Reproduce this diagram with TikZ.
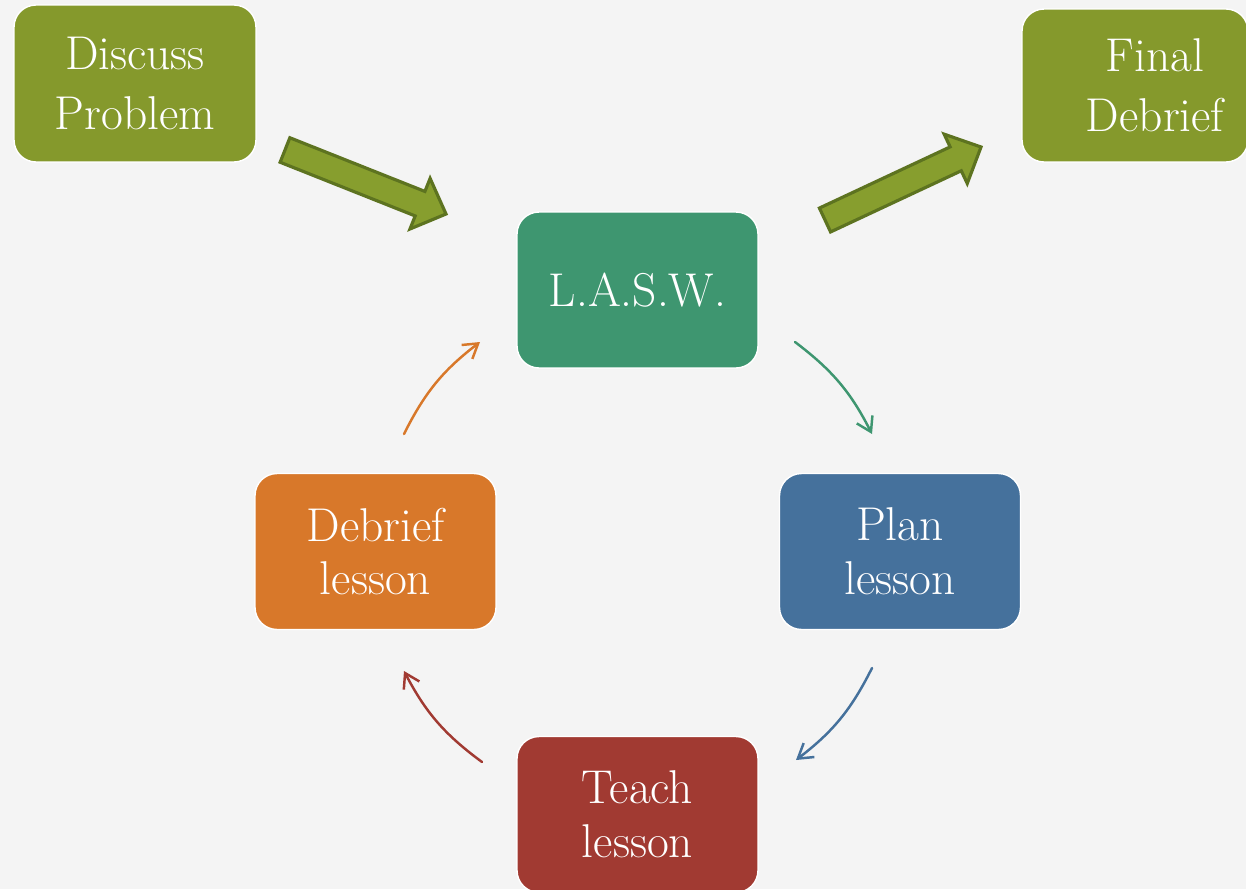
\documentclass[tikz,border=0pt]{standalone}
\usetikzlibrary{arrows.meta,calc}
\definecolor{bgc}{HTML}{F4F4F4}
\definecolor{cgreen}{HTML}{85992C}
\definecolor{cteal}{HTML}{3E9670}
\definecolor{cblue}{HTML}{45719C}
\definecolor{corange}{HTML}{D8782A}
\definecolor{cred}{HTML}{A13A32}
\definecolor{agreen}{HTML}{879E2E}
\definecolor{adark}{HTML}{5D7320}
\newcommand\bigarrow[2]{%
  \coordinate (#1-hb) at ($(#2)!15.9pt!(#1)$);
  \path[bigarr] ($(#1)!7.5pt!90:(#2)$) -- ($(#1-hb)!7.5pt!90:(#2)$) -- ($(#1-hb)!15.5pt!90:(#2)$) -- (#2)
     -- ($(#1-hb)!15.5pt!-90:(#2)$) -- ($(#1-hb)!7.5pt!-90:(#2)$) -- ($(#1)!7.5pt!-90:(#2)$) -- cycle;}
\begin{document}
\begin{tikzpicture}[x=0.02cm,y=-0.02cm,
  box/.style={rounded corners=0.44cm, draw=white, line width=0.8pt, minimum width=4.82cm,
    minimum height=3.12cm, text=white, align=center, inner sep=0pt,
    font=\fontsize{27}{30.6}\selectfont},
  topbox/.style={box, font=\fontsize{27}{34}\selectfont},
  cyc/.style={line width=1.4pt, line cap=round, -{Straight Barb[length=8pt,width=10pt,line width=1.4pt]}},
  bigarr/.style={fill=agreen, draw=adark, line width=1.8pt, line join=miter}]
\useasboundingbox (0,0) rectangle (1246,889);
\fill[bgc] (0,0) rectangle (1246,889);

\node[topbox, fill=cgreen, minimum width=4.84cm, minimum height=3.14cm] (discuss) at (135,83.5) {Discuss\\Problem};
\node[topbox, fill=cgreen, minimum width=4.52cm, minimum height=3.06cm] (final) at (1135,85.5) {};
\node[text=white, align=center, inner sep=0pt, font=\fontsize{27}{34}\selectfont] (finaltext) at (1155,85) {Final\\Debrief};

\node[box, fill=cteal] (lasw) at (637.5,290) {L.A.S.W.};
\node[box, fill=cblue] (plan) at (900,551.5) {Plan\\lesson};
\node[box, fill=cred] (teach) at (637.5,814.5) {Teach\\lesson};
\node[box, fill=corange] (debrief) at (375.5,551.5) {Debrief\\lesson};

\coordinate (a1s) at (285,150);
\coordinate (a1e) at (446,214);
\coordinate (a2s) at (825,220);
\coordinate (a2e) at (981,147);
\bigarrow{a1s}{a1e}
\bigarrow{a2s}{a2e}

\coordinate (c1s) at (795,342);
\coordinate (c1e) at (872,434);
\coordinate (c2s) at (872,668);
\coordinate (c2e) at (796,760);
\coordinate (c3s) at (482,762);
\coordinate (c3e) at (404,671);
\coordinate (c4s) at (404,434);
\coordinate (c4e) at (480,342);
\draw[cyc, cteal] (c1s) to[bend left=13] (c1e);
\draw[cyc, cblue] (c2s) to[bend left=13] (c2e);
\draw[cyc, cred] (c3s) to[bend left=13] (c3e);
\draw[cyc, corange] (c4s) to[bend left=13] (c4e);
\end{tikzpicture}
\end{document}
